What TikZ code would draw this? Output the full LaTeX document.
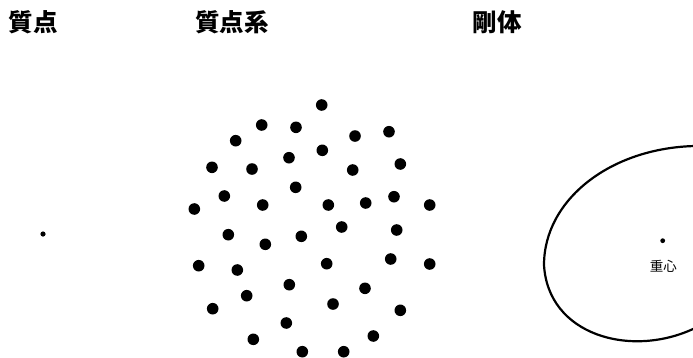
\documentclass[tikz,border=0pt]{standalone}
\usepackage{fontspec}
\newfontfamily\cjk{Noto Sans CJK JP}
\begin{document}
\begin{tikzpicture}[x=1pt,y=-1pt,
  title/.style={font=\cjk\bfseries\fontsize{24.5}{24.5}\selectfont, inner sep=0pt, anchor=center},
  lbl/.style={font=\cjk\fontsize{13.5}{13.5}\selectfont, inner sep=0pt, anchor=center},
  mass/.style={fill=black}]
\useasboundingbox (0,0) rectangle (693,357);
\clip (0,0) rectangle (693,357);
\fill[white] (0,0) rectangle (693,357);
% titles
\node[title] (t1) at (33.5,22) {質点};
\node[title] (t2) at (232,22) {質点系};
\node[title] (t3) at (497,22) {剛体};
% single point mass
\fill[mass] (43,234) circle (2.6);
% system of particles
\foreach \x/\y in {
 321.7/105, 261.7/125, 296/127.3, 355/136, 389/131.7, 235.7/140.7,
 322.3/150.3, 289/157.7, 212/167.3, 252/169, 352.7/170, 400.3/164,
 295.7/187.3, 224.3/196, 262.7/205, 328.3/205, 365.7/203, 394/196.7,
 429.7/205, 194.3/209, 341.7/227, 228.3/234.7, 301.3/236.3, 265.3/244.3,
 396.7/230, 326.7/263.7, 390.7/259, 429.7/264, 198.7/265.7, 237.3/270,
 289.3/284.7, 365/288.3, 246.7/295.7, 212.7/308.7, 333/304, 400.3/310.3,
 286.3/323, 373.3/336, 253.3/339.3, 302.3/351.7, 343.7/351.7}
 \fill[mass] (\x,\y) circle (5.8);
% rigid body
\draw[line width=2.2pt] (544,265) .. controls (544,200) and (610,148) .. (695,146)
  .. controls (780,144) and (756,300) .. (693,329)
  .. controls (630,358) and (548,335) .. (544,265) -- cycle;
\fill[mass] (662.7,240.7) circle (2.4);
\node[lbl] (cg) at (663.3,266.7) {重心};
\end{tikzpicture}
\end{document}
